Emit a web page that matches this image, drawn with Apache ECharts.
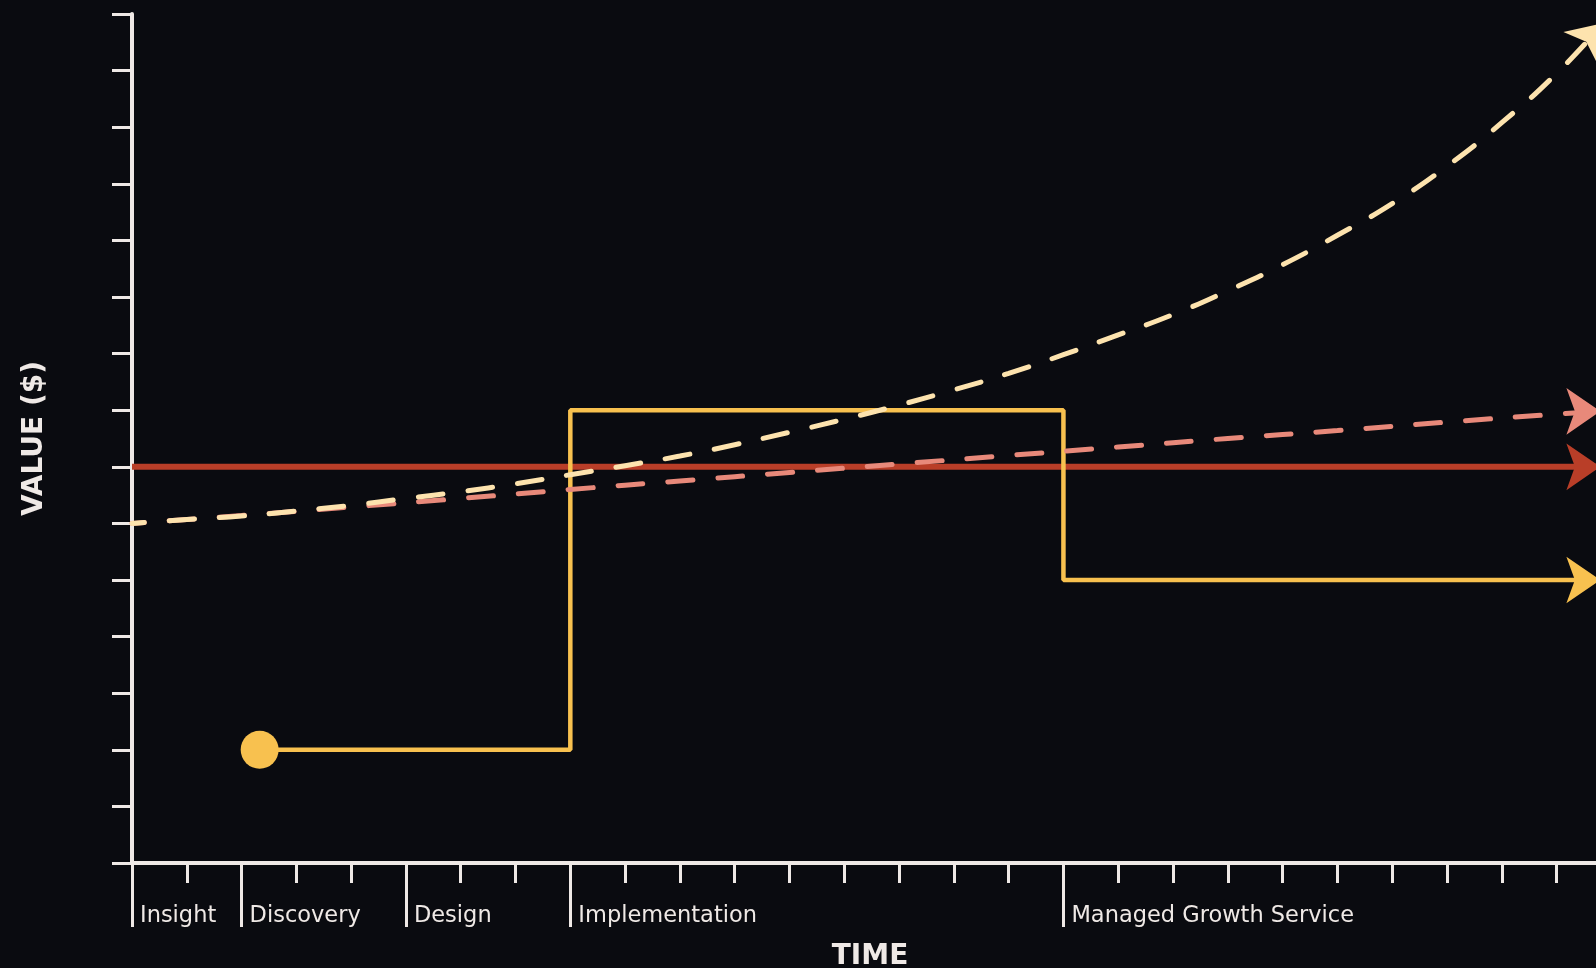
<!DOCTYPE html>
<html><head><meta charset="utf-8">
<script src="https://cdn.jsdelivr.net/npm/echarts@6/dist/echarts.min.js"></script>
<style>html,body{margin:0;padding:0;background:#0a0b10;overflow:hidden}#c{width:1596px;height:968px}</style>
</head><body><div id="c"></div>
<script>
// ---- data ----
const phaseStarts = [0, 2, 5, 8, 17];
const phaseNames = ['Insight', 'Discovery', 'Design', 'Implementation', 'Managed Growth Service'];
const timeTicks = [0, 1, 2, 3, 4, 5, 6, 7, 8, 9, 10, 11, 12, 13, 14, 15, 16, 17, 18, 19, 20, 21, 22, 23, 24, 25, 26];

// stepped investment path (yellow)
const stepX = [2.33, 8, 17, 26.8];
const stepY = [2, 8, 5, 5];

// flat baseline (red)
const flatX = [0, 26.8];
const flatY = [7, 7];

// slow growth (salmon, dashed)
const slowX = [0, 2, 4, 6, 8, 10, 12, 14, 16, 18, 20, 22, 24, 26, 26.8];
const slowY = [6.00, 6.14, 6.29, 6.44, 6.60, 6.75, 6.90, 7.05, 7.20, 7.35, 7.50, 7.64, 7.79, 7.93, 7.98];

// fast growth (cream, dashed)
const fastX = [0, 1, 2, 3, 4, 5, 6, 7, 8, 9, 10, 11, 12, 13, 14, 15, 16, 17, 18, 19, 20, 21, 22, 23, 24, 25, 26, 26.86];
const fastY = [6.00, 6.07, 6.13, 6.22, 6.32, 6.44, 6.56, 6.70, 6.86, 7.02, 7.19, 7.39, 7.61, 7.84, 8.09, 8.36, 8.65, 8.98, 9.33, 9.69, 10.11, 10.57, 11.09, 11.65, 12.31, 13.08, 13.95, 14.84];

// ---- styles ----
const BG = '#0a0b10';
const AX = '#efe9e6';
const YELLOW = '#f8c14f';
const RED = '#b93e28';
const SALMON = '#e8897a';
const CREAM = '#fde3ae';
const ARROW_SIZE = [35, 34];
const X_MAX = 26.72;

function pts(xs, ys, lastRotate, firstCircle) {
  return xs.map((x, i) => {
    const item = { value: [x, ys[i]] };
    if (i === xs.length - 1) {
      item.symbol = 'arrow';
      item.symbolSize = ARROW_SIZE;
      item.symbolRotate = lastRotate;
    } else if (i === 0 && firstCircle) {
      item.symbol = 'circle';
      item.symbolSize = 38;
    }
    return item;
  });
}

const chart = echarts.init(document.getElementById('c'), null, { renderer: 'canvas' });

function build(fastRot) {
  return {
    backgroundColor: BG,
    animation: false,
    grid: { left: 132, right: 0, top: 14, bottom: 105, containLabel: false, outerBoundsMode: 'none' },
    xAxis: [
      {
        type: 'value', min: 0, max: X_MAX, position: 'bottom',
        name: 'TIME', nameLocation: 'middle', nameGap: 80,
        nameTextStyle: { color: AX, fontFamily: 'DejaVu Sans', fontWeight: 'bold', fontSize: 28, padding: [0, 0, 0, 12] },
        axisLine: { show: true, lineStyle: { color: AX, width: 4 } },
        axisTick: { show: true, inside: false, length: 20, customValues: timeTicks, lineStyle: { color: AX, width: 3 } },
        axisLabel: { show: false },
        splitLine: { show: false }
      },
      {
        type: 'value', min: 0, max: X_MAX, position: 'bottom',
        axisLine: { show: false },
        axisTick: { show: true, inside: false, length: 64, customValues: phaseStarts, lineStyle: { color: AX, width: 3 } },
        axisLabel: {
          show: true, customValues: phaseStarts,
          formatter: v => phaseNames[phaseStarts.indexOf(v)] || '',
          color: AX, fontFamily: 'DejaVu Sans', fontSize: 22.5,
          align: 'left', verticalAlign: 'middle', margin: 53, padding: [0, 0, 0, 8]
        },
        splitLine: { show: false }
      }
    ],
    yAxis: {
      type: 'value', min: 0, max: 15, interval: 1,
      name: 'VALUE ($)', nameLocation: 'middle', nameGap: 83, nameRotate: 90,
      nameTextStyle: { color: AX, fontFamily: 'DejaVu Sans', fontWeight: 'bold', fontSize: 28 },
      axisLine: { show: true, lineStyle: { color: AX, width: 4 } },
      axisTick: { show: true, inside: false, length: 20, lineStyle: { color: AX, width: 3 } },
      axisLabel: { show: false },
      splitLine: { show: false }
    },
    series: [
      {
        type: 'line', name: 'flat', z: 2, clip: false,
        data: pts(flatX, flatY, -90, false),
        symbol: 'none', showSymbol: true,
        lineStyle: { color: RED, width: 6 },
        itemStyle: { color: RED }
      },
      {
        type: 'line', name: 'step', z: 3, step: 'end', clip: false,
        data: pts(stepX, stepY, -90, true),
        symbol: 'none', showSymbol: true,
        lineStyle: { color: YELLOW, width: 4.5 },
        itemStyle: { color: YELLOW }
      },
      {
        type: 'line', name: 'slow', z: 4, smooth: 0.5, clip: false,
        data: pts(slowX, slowY, -90, false),
        symbol: 'none', showSymbol: true,
        lineStyle: { color: SALMON, width: 5, type: [25, 25], dashOffset: 12.5, cap: 'round' },
        itemStyle: { color: SALMON }
      },
      {
        type: 'line', name: 'fast', z: 5, smooth: 0.5, clip: false,
        data: pts(fastX, fastY, fastRot, false),
        symbol: 'none', showSymbol: true,
        lineStyle: { color: CREAM, width: 5, type: [25, 25], dashOffset: 12.5, cap: 'round' },
        itemStyle: { color: CREAM }
      }
    ]
  };
}

chart.setOption(build(-45));
// orient the cream arrowhead along the final segment, measured through the chart's own scales
const n = fastX.length;
const a = chart.convertToPixel({ xAxisIndex: 0, yAxisIndex: 0 }, [fastX[n - 2], fastY[n - 2]]);
const b = chart.convertToPixel({ xAxisIndex: 0, yAxisIndex: 0 }, [fastX[n - 1], fastY[n - 1]]);
const rot = Math.atan2(a[1] - b[1], b[0] - a[0]) * 180 / Math.PI - 90;
chart.setOption(build(rot), true);
</script>
</body></html>
